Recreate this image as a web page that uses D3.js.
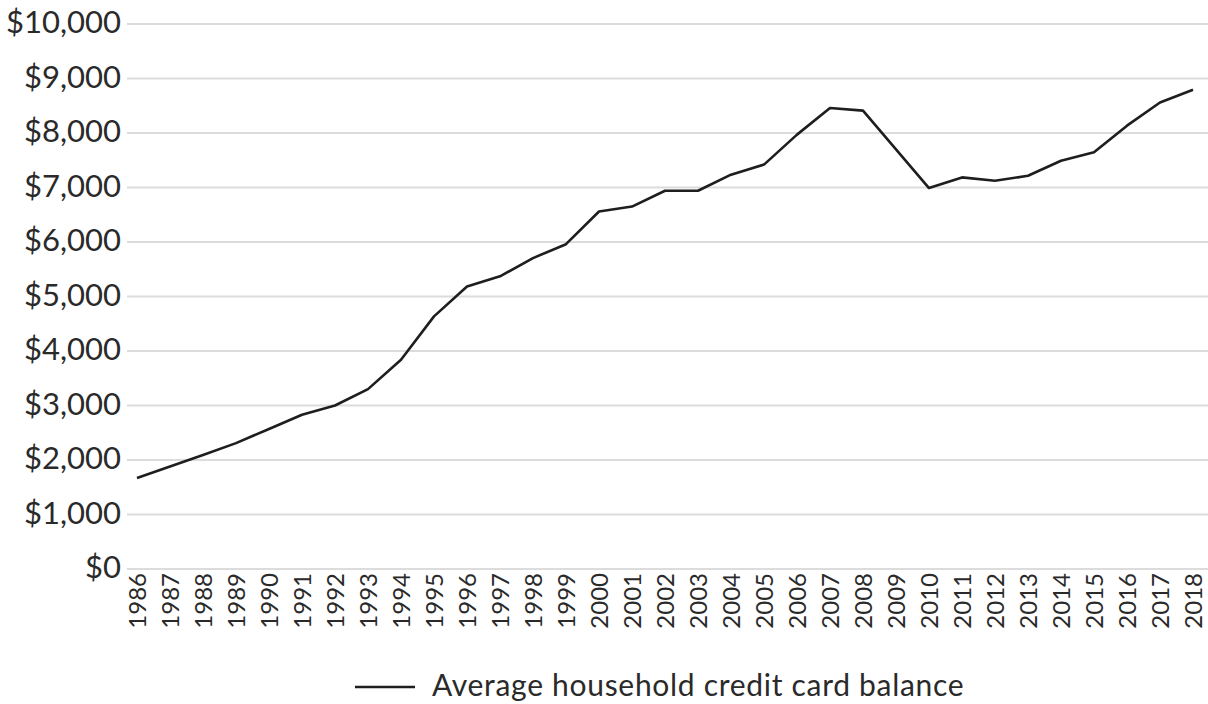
<!DOCTYPE html>
<html>
<head>
<meta charset="utf-8">
<script src="https://cdn.jsdelivr.net/npm/d3@7"></script>
<style>
  html, body { margin: 0; padding: 0; background: #fff; }
  svg { display: block; }
  text { font-family: "Lato", "Open Sans", sans-serif; fill: #2a2a2a; }
</style>
</head>
<body>
<svg id="chart" width="1208" height="704"></svg>
<script>
// Average household credit card balance, 1986–2018
const years = [1986, 1987, 1988, 1989, 1990, 1991, 1992, 1993, 1994, 1995, 1996,
  1997, 1998, 1999, 2000, 2001, 2002, 2003, 2004, 2005, 2006, 2007, 2008, 2009,
  2010, 2011, 2012, 2013, 2014, 2015, 2016, 2017, 2018];
const balances = [1670, 1880, 2090, 2310, 2570, 2830, 3000, 3300, 3840, 4635, 5185,
  5370, 5705, 5960, 6560, 6650, 6940, 6940, 7235, 7420, 7970, 8460, 8410, 7700,
  6990, 7185, 7125, 7215, 7490, 7645, 8135, 8560, 8795];
const yTicks = [0, 1000, 2000, 3000, 4000, 5000, 6000, 7000, 8000, 9000, 10000];
const seriesName = "Average household credit card balance";

const svg = d3.select("#chart");

const x = d3.scalePoint()
  .domain(years)
  .range([137, 1193]);

const y = d3.scaleLinear()
  .domain([0, 10000])
  .range([569, 24]);

const fmt = v => "$" + d3.format(",")(v);

// horizontal gridlines
svg.append("g")
  .selectAll("line")
  .data(yTicks)
  .join("line")
  .attr("x1", 127)
  .attr("x2", 1208)
  .attr("y1", d => y(d))
  .attr("y2", d => y(d))
  .attr("stroke", "#dcdcdc")
  .attr("stroke-width", 2.2);

// y axis labels
const yAxis = d3.axisLeft(y).tickValues(yTicks).tickFormat(fmt).tickSize(0).tickPadding(0);
svg.append("g")
  .attr("transform", "translate(121,0)")
  .call(yAxis)
  .call(g => g.select(".domain").remove())
  .call(g => g.selectAll("text")
    .attr("font-size", 31)
    .attr("font-family", "Lato, 'Open Sans', sans-serif")
    .attr("fill", "#2a2a2a")
    .attr("dy", "0.28em"));

// x axis labels, rotated
const xAxis = d3.axisBottom(x).tickSize(0).tickPadding(0);
svg.append("g")
  .attr("transform", `translate(0,${y(0)})`)
  .call(xAxis)
  .call(g => g.select(".domain").remove())
  .call(g => g.selectAll("text")
    .attr("font-size", 24)
    .attr("font-family", "Lato, 'Open Sans', sans-serif")
    .attr("fill", "#2a2a2a")
    .attr("text-anchor", "end")
    .attr("transform", "rotate(-90)")
    .attr("x", -4)
    .attr("y", 0)
    .attr("dy", "0.35em"));

// series line
const line = d3.line()
  .x((d, i) => x(years[i]))
  .y(d => y(d));

svg.append("path")
  .datum(balances)
  .attr("d", line)
  .attr("fill", "none")
  .attr("stroke", "#1e1e1e")
  .attr("stroke-width", 2.6)
  .attr("stroke-linejoin", "round");

// legend
const legend = svg.append("g").attr("transform", "translate(355,687)");
legend.append("line")
  .attr("x1", 0).attr("x2", 60)
  .attr("y1", 0).attr("y2", 0)
  .attr("stroke", "#1e1e1e")
  .attr("stroke-width", 2.6);
legend.append("text")
  .attr("x", 77)
  .attr("y", 9)
  .attr("font-size", 30)
  .attr("letter-spacing", 0.7)
  .text(seriesName);
</script>
</body>
</html>
